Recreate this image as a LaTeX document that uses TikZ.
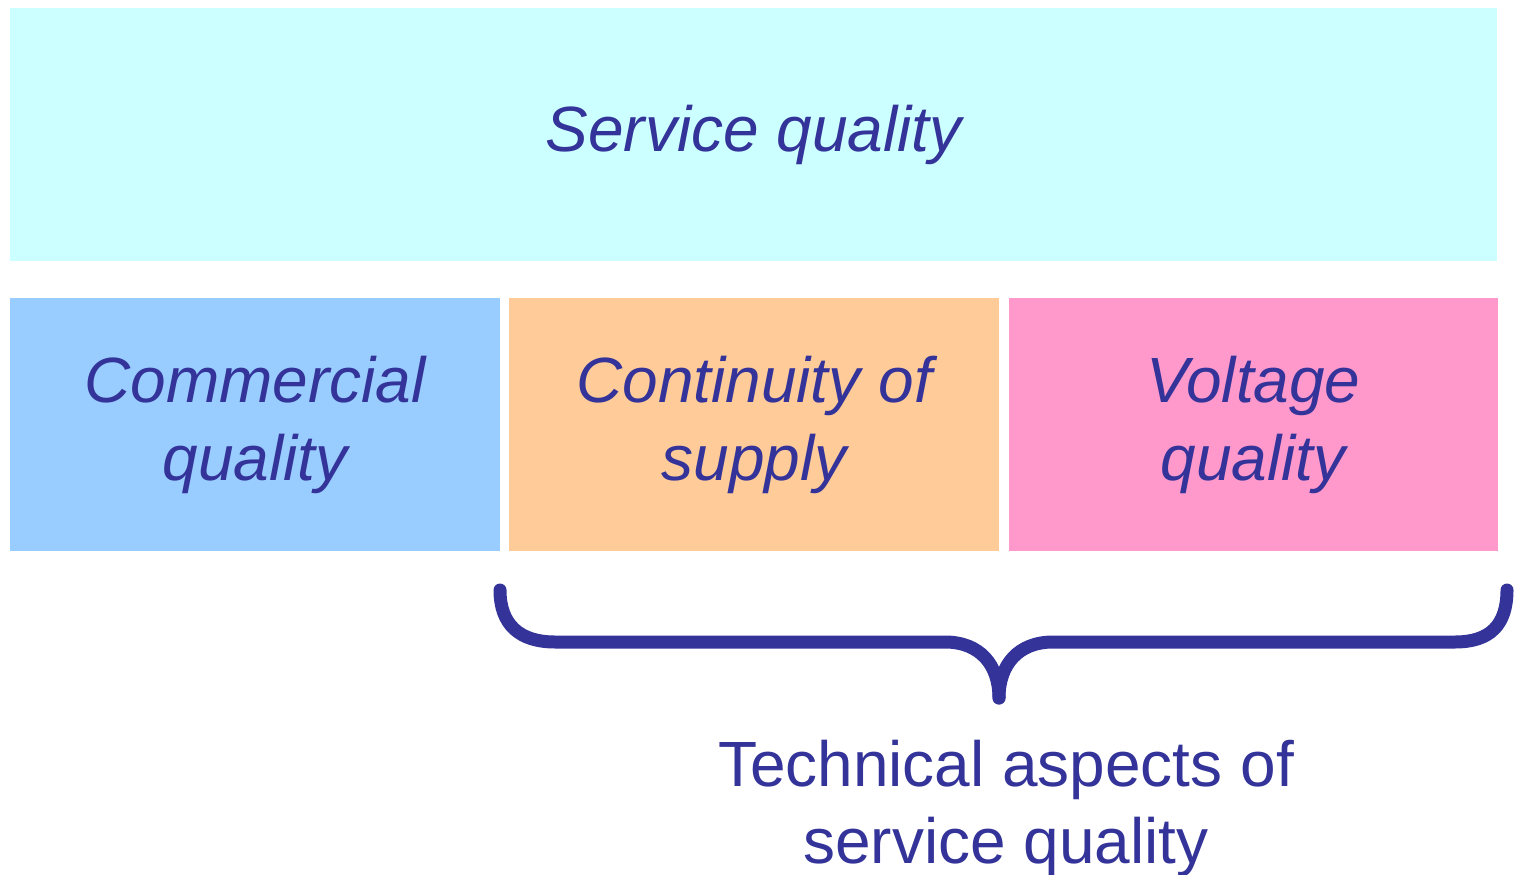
\documentclass[tikz,border=0pt]{standalone}
\usepackage{fontspec}
\setmainfont{Liberation Sans}
\usetikzlibrary{positioning}
\definecolor{ink}{HTML}{333399}
\definecolor{servfill}{HTML}{CCFFFF}
\definecolor{commfill}{HTML}{99CCFF}
\definecolor{contfill}{HTML}{FFCC99}
\definecolor{voltfill}{HTML}{FF99CC}
\def\mygap{0.18cm}
\tikzset{
my node/.style={text=ink,align=center,inner sep=0pt,font=\fontsize{36.4}{44}\selectfont},
my box/.style={my node,minimum width=9.79cm,minimum height=5.06cm,font=\fontsize{36.4}{44}\selectfont\itshape},
my brace/.style={draw=ink,line width=0.26cm,line cap=round},
}
\begin{document}
\begin{tikzpicture}[x=0.02cm,y=-0.02cm]
\useasboundingbox (0,0) rectangle (1514,875);
\node[my box,fill=servfill,minimum width=29.74cm,anchor=north west] (serv) at (10,8) {Service quality};
\node[my box,fill=commfill,anchor=north west] (comm) at (10,298) {Commercial\\quality};
\node[my box,fill=contfill,right=\mygap of comm] (cont) {Continuity of\\supply};
\node[my box,fill=voltfill,right=\mygap of cont] (volt) {Voltage\\quality};
% brace under the technical part
\coordinate (bl) at (500,590);
\coordinate (tip) at (999,698);
\coordinate (br) at (1507,590);
\draw[my brace] (bl) .. controls (500,625) and (520,642) .. (555,642) -- (945,642)
      .. controls (980,642) and (999,665) .. (tip);
\draw[my brace] (tip) .. controls (999,665) and (1018,642) .. (1053,642) -- (1455,642)
      .. controls (1490,642) and (1507,625) .. (br);
\node[my node,below=0.84cm of tip,xshift=0.14cm] (tech) {Technical aspects of\\service quality};
\end{tikzpicture}
\end{document}
